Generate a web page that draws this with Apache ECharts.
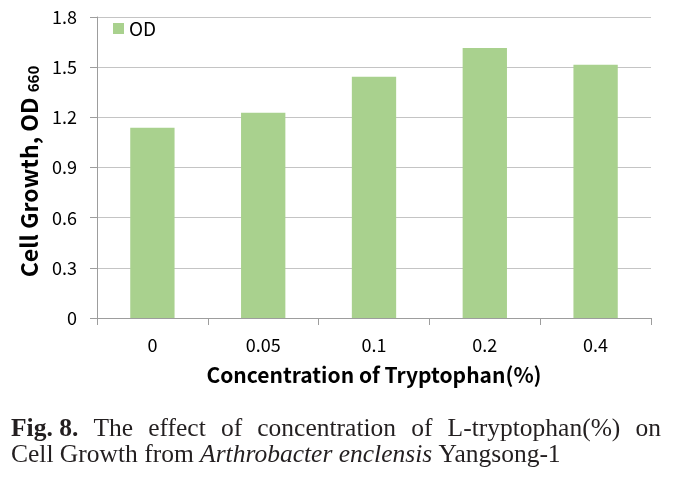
<!DOCTYPE html>
<html>
<head>
<meta charset="utf-8">
<script src="https://cdn.jsdelivr.net/npm/echarts@6/dist/echarts.min.js"></script>
<style>
html,body{margin:0;padding:0;background:#fff;}
#chart{width:681px;height:478px;}
</style>
</head>
<body>
<div id="chart"></div>
<script>
const categories = ['0', '0.05', '0.1', '0.2', '0.4'];
const odValues = [1.137, 1.227, 1.443, 1.614, 1.514];
const seriesName = 'OD';
const xTitle = 'Concentration of Tryptophan(%)';
const yTitleMain = 'Cell Growth, OD ';
const yTitleSub = '660';
const captionBold = 'Fig. 8.';
const captionLine1 = 'The effect of concentration of L-tryptophan(%) on';
const captionLine2a = 'Cell Growth from ';
const captionLine2b = 'Arthrobacter enclensis';
const captionLine2c = ' Yangsong-1';

const sansFont = '"Noto Sans CJK KR", "Noto Sans", sans-serif';
const serifFont = '"Liberation Serif", "DejaVu Serif", serif';
const capSize = 25.5;

// justified caption line 1
const cv = document.createElement('canvas').getContext('2d');
function measure(t, font) { cv.font = font; return cv.measureText(t).width; }
const boldFont = 'bold ' + capSize + 'px ' + serifFont;
const normFont = capSize + 'px ' + serifFont;
const words = captionLine1.split(' ');
const lineLeft = 11, lineRight = 661;
const tokens = [{t: captionBold, bold: true}].concat(words.map(w => ({t: w, bold: false})));
const widths = tokens.map(k => measure(k.t, k.bold ? boldFont : normFont));
const total = widths.reduce((a, b) => a + b, 0);
const gap = (lineRight - lineLeft - total) / (tokens.length - 1);
const captionElems = [];
let cx = lineLeft;
tokens.forEach((k, i) => {
  captionElems.push({
    type: 'text', left: cx, top: 416,
    style: {text: k.t, fill: '#231f20', font: (k.bold ? boldFont : normFont)}
  });
  cx += widths[i] + gap;
});
captionElems.push({
  type: 'text', left: lineLeft, top: 442,
  style: {
    text: '{n|' + captionLine2a + '}{i|' + captionLine2b + '}{n|' + captionLine2c + '}',
    rich: {
      n: {font: normFont, fill: '#231f20'},
      i: {font: 'italic ' + capSize + 'px ' + serifFont, fill: '#231f20'}
    }
  }
});

const chart = echarts.init(document.getElementById('chart'), null, {renderer: 'canvas'});
chart.setOption({
  animation: false,
  backgroundColor: '#ffffff',
  grid: {left: 97, right: 30, top: 17, bottom: 160, containLabel: false},
  legend: {
    left: 108, top: 14,
    icon: 'rect', itemWidth: 11, itemHeight: 11, itemGap: 10,
    textStyle: {fontFamily: sansFont, fontSize: 19, color: '#000', padding: [0, 0, 0, 0]},
    data: [seriesName]
  },
  xAxis: {
    type: 'category',
    data: categories,
    boundaryGap: true,
    axisLine: {show: true, lineStyle: {color: '#9d9d9d', width: 1}},
    axisTick: {show: true, length: 7, lineStyle: {color: '#9d9d9d'}},
    axisLabel: {margin: 18, fontFamily: sansFont, fontSize: 18, color: '#000'},
    name: xTitle,
    nameLocation: 'middle',
    nameGap: 47,
    nameTextStyle: {fontFamily: sansFont, fontSize: 21, fontWeight: 'bold', color: '#000'}
  },
  yAxis: {
    type: 'value',
    min: 0, max: 1.8, interval: 0.3,
    axisLine: {show: true, lineStyle: {color: '#9d9d9d', width: 1}},
    axisTick: {show: true, length: 7, lineStyle: {color: '#9d9d9d'}},
    axisLabel: {margin: 20, fontFamily: sansFont, fontSize: 18, color: '#000'},
    splitLine: {show: true, lineStyle: {color: '#c4c4c4', width: 1}},
    name: '{a|' + yTitleMain + '}{b|' + yTitleSub + '}',
    nameLocation: 'middle',
    nameGap: 54,
    nameRotate: 90,
    nameTextStyle: {
      rich: {
        a: {fontFamily: sansFont, fontSize: 23, fontWeight: 'bold', color: '#000', verticalAlign: 'bottom'},
        b: {fontFamily: sansFont, fontSize: 15, fontWeight: 'bold', color: '#000', verticalAlign: 'bottom', padding: [0, 8, 0, 0]}
      }
    }
  },
  series: [{
    name: seriesName,
    type: 'bar',
    data: odValues,
    barWidth: '40%',
    itemStyle: {color: '#a9d18e'}
  }],
  graphic: captionElems
});
</script>
</body>
</html>
